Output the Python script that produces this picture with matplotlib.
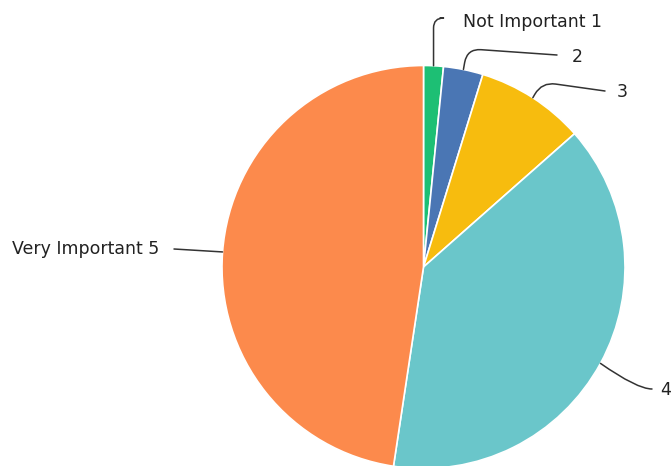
import numpy as np
import matplotlib
matplotlib.use("Agg")
import matplotlib.pyplot as plt

labels = ["Not Important 1", "2", "3", "4", "Very Important 5"]
values = [2, 4, 11, 49, 60]
colors = ["#1DBF74", "#4A76B4", "#F7BC0E", "#6AC6CA", "#FC8A4C"]

W, H = 671, 466
fig = plt.figure(figsize=(W / 100, H / 100), dpi=100)
ax = fig.add_axes([0, 0, 1, 1])

cx, cy, R = 423.5, H - 267, 201.5
wedges, _ = ax.pie(values, colors=colors, startangle=90, counterclock=False,
                   center=(cx, cy), radius=R,
                   wedgeprops=dict(edgecolor="white", linewidth=1.2))
ax.set_xlim(0, W)
ax.set_ylim(0, H)
ax.set_aspect("equal")
ax.axis("off")

# layout: leader end points and text anchors (pixel coords, origin top-left)
leader_ends = [(440, 18), (557, 55), (605, 91), (652, 389), (174, 249)]
text_pos = [(463, 22), (572, 57), (617, 92), (660, 390), (12, 249)]
conn = ["angle,angleA=0,angleB=90,rad=10",
        "angle,angleA=-4,angleB=80,rad=14",
        "angle,angleA=-8,angleB=60,rad=14",
        "angle3,angleA=0,angleB=-35",
        "arc3,rad=0"]

for w, lab, le, tp, cs in zip(wedges, labels, leader_ends, text_pos, conn):
    ang = np.deg2rad((w.theta1 + w.theta2) / 2)
    ex, ey = cx + R * np.cos(ang), cy + R * np.sin(ang)
    ax.annotate("", xy=(ex, ey), xytext=(le[0], H - le[1]),
                arrowprops=dict(arrowstyle="-", color="#333333", lw=1.1,
                                connectionstyle=cs, shrinkA=0, shrinkB=0))
    ax.text(tp[0], H - tp[1], lab, ha="left", va="center",
            fontsize=12.5, family="DejaVu Sans", color="#222222")

fig.savefig("out.png", dpi=100)
